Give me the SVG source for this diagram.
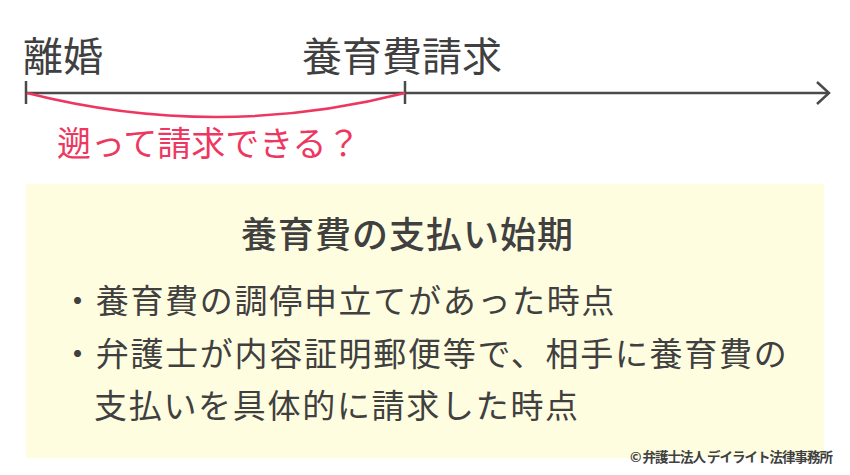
<svg xmlns="http://www.w3.org/2000/svg" width="850" height="475" viewBox="0 0 850 475">
<style>
text{font-family:"Noto Sans CJK JP","Noto Sans CJK SC",sans-serif;fill:#404040}
.big{font-size:40px}
.pink{fill:#ee3760;font-size:34px}
.title{font-size:36px;font-weight:500}
.item{font-size:33px;letter-spacing:1.7px}
.axis{stroke:#4a4a4a;stroke-width:2.5;fill:none}
</style>
<rect width="850" height="475" fill="#ffffff"/>
<g id="timeline">
<line class="axis" x1="26" y1="93" x2="829" y2="93"/>
<line class="axis" x1="26" y1="81" x2="26" y2="104"/>
<line class="axis" x1="405" y1="81" x2="405" y2="104"/>
<polyline class="axis" points="817,82 829,93 817,104"/>
</g>
<g id="label-divorce"><text class="big" x="23" y="71">離婚</text></g>
<g id="label-claim"><text class="big" x="302" y="71">養育費請求</text></g>
<g id="connectors">
<path d="M27,93 Q216,141 405,93" fill="none" stroke="#ee3760" stroke-width="2.5"/>
</g>
<g id="question"><text class="pink" x="57" y="156">遡って請求できる？</text></g>
<g id="box">
<rect x="26" y="184" width="798" height="274" fill="#fffde0"/>
<text class="title" x="241" y="248" letter-spacing="1">養育費の支払い始期</text>
<text class="item" x="61" y="313">・養育費の調停申立てがあった時点</text>
<text class="item" x="61" y="366">・弁護士が内容証明郵便等で、相手に養育費の</text>
<text class="item" x="94" y="418">支払いを具体的に請求した時点</text>
</g>
<g id="credit"><text x="832" y="462" text-anchor="end" font-size="13.5" letter-spacing="-1" font-weight="bold" fill="#333">© 弁護士法人 デイライト法律事務所</text></g>
</svg>
